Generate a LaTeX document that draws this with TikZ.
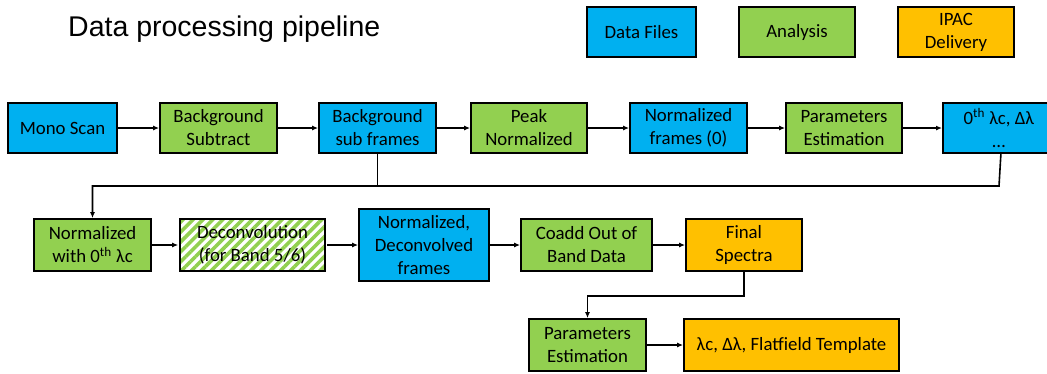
\documentclass[tikz,border=0pt]{standalone}
\usepackage{fontspec}
\setmainfont{Carlito}
\newfontfamily\titlefont{Liberation Sans}
\usetikzlibrary{arrows.meta,patterns.meta}
\definecolor{fileblue}{HTML}{00B0F0}
\definecolor{anagreen}{HTML}{92D050}
\definecolor{ipacorange}{HTML}{FFC000}
\tikzset{
  box/.style={draw=black, line width=1.8pt, align=center, inner sep=0pt,
    font=\fontsize{18.8}{23}\selectfont, text=black},
  filebox/.style={box, fill=fileblue},
  anabox/.style={box, fill=anagreen},
  ipacbox/.style={box, fill=ipacorange},
  hatchbox/.style={box, fill=white, pattern={Lines[angle=45,distance=7pt,line width=3.6pt]}, pattern color=anagreen},
  conn/.style={line width=1.6pt, draw=black},
  arr/.style={conn, -{Latex[length=6pt,width=5pt]}},
}
\newcommand{\thsup}{\textsuperscript{th}}
\begin{document}
\begin{tikzpicture}[x=1pt,y=-1pt]
\useasboundingbox (0,0) rectangle (1047,373);
\clip (0,0) rectangle (1047,373);
% title
\node[anchor=west, font=\titlefont\fontsize{28.5}{32}\selectfont, inner sep=0pt] (title) at (68,29) {Data processing pipeline};
% legend
\node[filebox, minimum width=109pt, minimum height=50pt] (lgdata) at (641.5,32) {Data Files};
\node[anabox, minimum width=116pt, minimum height=50pt] (lgana) at (797,32) {Analysis};
\node[ipacbox, minimum width=116pt, minimum height=50pt] (lgipac) at (956,32) {IPAC\\Delivery};
% row 1
\node[filebox, minimum width=109pt, minimum height=50pt] (mono) at (62.5,128) {Mono Scan};
\node[anabox, minimum width=117pt, minimum height=50pt] (bgsub) at (218.5,128) {Background\\Subtract};
\node[filebox, minimum width=117pt, minimum height=50pt] (bgframes) at (377.5,128) {Background\\sub frames};
\node[anabox, minimum width=116pt, minimum height=50pt] (peak) at (529,128) {Peak\\Normalized};
\node[filebox, minimum width=117pt, minimum height=50pt] (normf) at (688.5,128) {Normalized\\frames (0)};
\node[anabox, minimum width=116pt, minimum height=50pt] (param1) at (844,128) {Parameters\\Estimation};
\node[filebox, minimum width=112pt, minimum height=50pt, anchor=west] (zeroth) at (942,128) {0\thsup{} λc, Δλ\\…};
% row 2
\node[anabox, minimum width=117pt, minimum height=52pt] (normwith) at (92.5,245) {Normalized\\with 0\thsup{} λc};
\node[hatchbox, minimum width=145pt, minimum height=52pt] (deconv) at (252.5,245) {Deconvolution\\(for Band 5/6)};
\node[filebox, minimum width=130pt, minimum height=72pt] (normdec) at (424,245) {Normalized,\\Deconvolved\\frames};
\node[anabox, minimum width=131pt, minimum height=52pt] (coadd) at (586.5,245) {Coadd Out of\\Band Data};
\node[ipacbox, minimum width=116pt, minimum height=52pt] (final) at (744,245) {Final\\Spectra};
% row 3
\node[anabox, minimum width=117pt, minimum height=52pt] (param2) at (587.5,345) {Parameters\\Estimation};
\node[ipacbox, minimum width=215pt, minimum height=52pt] (flat) at (791.5,345) {λc, Δλ, Flatfield Template};
% connectors row 1
\draw[arr] (mono) -- (bgsub);
\draw[arr] (bgsub) -- (bgframes);
\draw[arr] (bgframes) -- (peak);
\draw[arr] (peak) -- (normf);
\draw[arr] (normf) -- (param1);
\draw[arr] (param1) -- (zeroth);
% feedback
\coordinate (j) at (92.5,186);
\coordinate (zj) at (999,186);
\draw[arr] ([xshift=2pt]zeroth.south) -- (zj) -- (j) -- (normwith.north);
\draw[conn] (bgframes.south) -- (bgframes.south |- j);
% row 2
\draw[arr] (normwith) -- (deconv);
\draw[arr] (deconv) -- (normdec);
\draw[arr] (normdec) -- (coadd);
\draw[arr] (coadd) -- (final);
% to row 3
\coordinate (k) at (587.5,296);
\draw[arr] (final.south) |- (k) -- (param2.north);
\draw[arr] (param2) -- (flat);
\end{tikzpicture}
\end{document}
